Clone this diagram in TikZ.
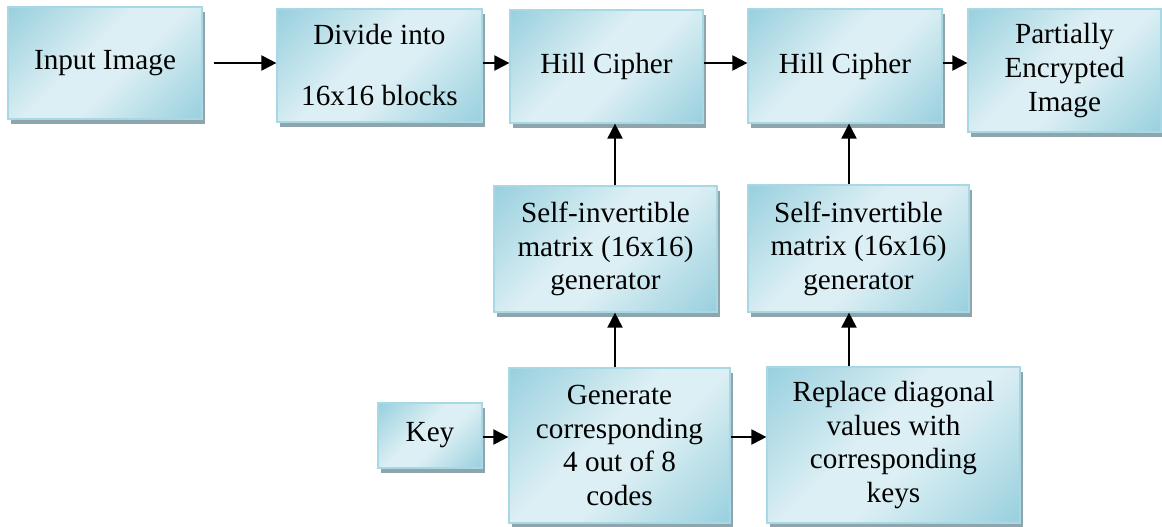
\documentclass[tikz,border=0pt]{standalone}
\usepackage{fontspec}
\setmainfont{Liberation Serif}
\usetikzlibrary{arrows.meta,shadows}

\definecolor{bdark}{RGB}{146,205,220}
\definecolor{blight}{RGB}{220,239,244}
\definecolor{bedge}{RGB}{168,216,228}
\definecolor{shadowc}{RGB}{143,165,174}

% diagonal aqua gradient: dark towards two opposite corners, light across the middle
\pgfdeclarehorizontalshading{aquabox}{100bp}{%
  color(0bp)=(bdark); color(12bp)=(bdark); color(44bp)=(blight);
  color(56bp)=(blight); color(88bp)=(bdark); color(100bp)=(bdark)}

\tikzset{
  blk/.style={draw=bedge, line width=0.6pt, shading=aquabox, shading angle=-45,
    drop shadow={shadow xshift=1.5pt, shadow yshift=-2.5pt, fill=shadowc, opacity=1},
    align=center, inner sep=0pt, text=black,
    font=\fontsize{14.6}{16.8}\selectfont},
  arr/.style={line width=1pt, -{Triangle[length=7.5pt,width=7.5pt]}}
}

\begin{document}
\begin{tikzpicture}[x=0.5pt,y=-0.5pt]
  \useasboundingbox (0,0) rectangle (1162,526);

  % top row
  \node[blk, minimum width=97pt, minimum height=56pt] (in) at (105,63) {Input Image};
  \node[blk, minimum width=102.5pt, minimum height=56.5pt] (div) at (379.5,65.5)
    {Divide into\\[13.7pt]16x16 blocks};
  \node[blk, minimum width=96.5pt, minimum height=56.5pt] (h1) at (606.5,66.5) {Hill Cipher};
  \node[blk, minimum width=97pt, minimum height=57pt] (h2) at (845,66) {Hill Cipher};
  \node[blk, minimum width=96.5pt, minimum height=61.5pt] (out) at (1064.5,70.5)
    {Partially\\Encrypted\\Image};

  % matrix generators
  \node[blk, minimum width=111.5pt, minimum height=63pt] (s1) at (605.5,249)
    {Self-invertible\\matrix (16x16)\\generator};
  \node[blk, minimum width=110.5pt, minimum height=63.5pt] (s2) at (858.5,248.5)
    {Self-invertible\\matrix (16x16)\\generator};

  % bottom row
  \node[blk, minimum width=52pt, minimum height=32.5pt] (key) at (430,435.5) {Key};
  \node[blk, minimum width=110.5pt, minimum height=77.5pt] (gen) at (619.5,445.5)
    {Generate\\corresponding\\4 out of 8\\codes};
  \node[blk, minimum width=126.5pt, minimum height=78pt] (rep) at (893.5,445)
    {Replace diagonal\\values with\\corresponding\\keys};

  % connector guides
  \coordinate (c1) at (615,0);
  \coordinate (c2) at (849,0);
  \coordinate (r2) at (0,437);

  % horizontal flow
  \draw[arr, shorten <=5.5pt] (in.east) -- (in.east -| div.west);
  \draw[arr] (div.east |- in.east) -- (h1.west |- in.east);
  \draw[arr] (h1.east |- in.east) -- (h2.west |- in.east);
  \draw[arr] (h2.east |- in.east) -- (out.west |- in.east);
  \draw[arr] (key.east |- r2) -- (gen.west |- r2);
  \draw[arr] (gen.east |- r2) -- (rep.west |- r2);

  % vertical flow
  \draw[arr] (s1.north -| c1) -- (h1.south -| c1);
  \draw[arr] (gen.north -| c1) -- (s1.south -| c1);
  \draw[arr] (s2.north -| c2) -- (h2.south -| c2);
  \draw[arr] (rep.north -| c2) -- (s2.south -| c2);
\end{tikzpicture}
\end{document}
